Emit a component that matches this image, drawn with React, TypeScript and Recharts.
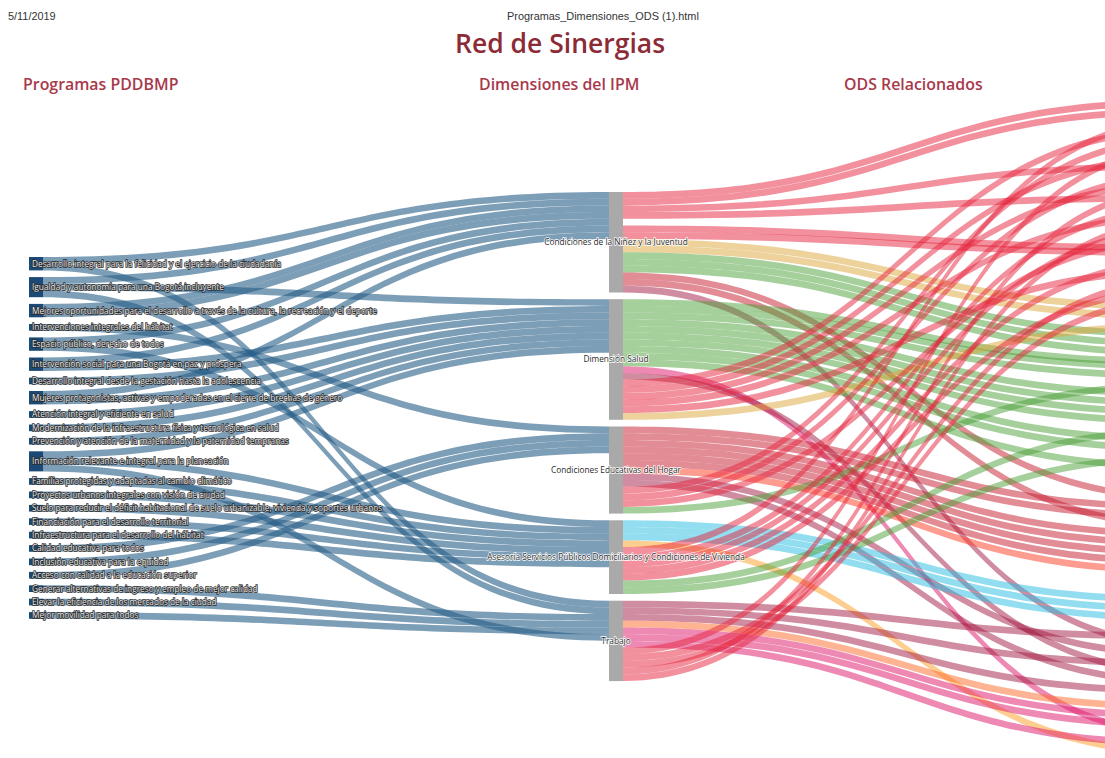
import React from 'react';
import { Sankey } from 'recharts';

const programas = [
  'Desarrollo integral para la felicidad y el ejercicio de la ciudadanía',
  'Igualdad y autonomía para una Bogotá incluyente',
  'Mejores oportunidades para el desarrollo a través de la cultura, la recreación y el deporte',
  'Intervenciones integrales del hábitat',
  'Espacio público, derecho de todos',
  'Intervención social para una Bogotá en paz y próspera',
  'Desarrollo integral desde la gestación hasta la adolescencia',
  'Mujeres protagonistas, activas y empoderadas en el cierre de brechas de género',
  'Atención integral y eficiente en salud',
  'Modernización de la infraestructura física y tecnológica en salud',
  'Prevención y atención de la maternidad y la paternidad tempranas',
  'Información relevante e integral para la planeación',
  'Familias protegidas y adaptadas al cambio climático',
  'Proyectos urbanos integrales con visión de ciudad',
  'Suelo para reducir el déficit habitacional de suelo urbanizable, vivienda y soportes urbanos',
  'Financiación para el desarrollo territorial',
  'Infraestructura para el desarrollo del hábitat',
  'Calidad educativa para todos',
  'Inclusión educativa para la equidad',
  'Acceso con calidad a la educación superior',
  'Generar alternativas de ingreso y empleo de mejor calidad',
  'Elevar la eficiencia de los mercados de la ciudad',
  'Mejor movilidad para todos',
];

const dimensiones = [
  'Condiciones de la Niñez y la Juventud',
  'Dimensión Salud',
  'Condiciones Educativas del Hogar',
  'Asesoría Servicios Públicos Domiciliarios y Condiciones de Vivienda',
  'Trabajo',
];

// program indices entering each dimension, in stacking order
const entradaNinez = [0, 1, 2, 2, 4, 5, 7];
const entradaSalud = [1, 5, 6, 7, 8, 9, 10, 11];
const entradaEducacion = [3, 17, 18, 19];
const entradaAsesoria = [4, 11, 12, 13, 14, 15, 16];
const entradaTrabajo = [0, 1, 20, 21, 22, 11];
const entradas = [entradaNinez, entradaSalud, entradaEducacion, entradaAsesoria, entradaTrabajo];

// ODS families on the right column, top to bottom: prefix, lanes, colour, hidden gap after it
const familiasOds: [string, number, string, number][] = [
  ['r', 21, '#E5243B', 0],
  ['y', 3, '#DDA63A', 0],
  ['g', 15, '#4C9F38', 3.8],
  ['c', 8, '#C5192D', 0],
  ['f', 1, '#FF3A21', 3.4],
  ['b', 3, '#26BDE2', 1],
  ['m', 7, '#A21942', 0.5],
  ['o', 1, '#FD6925', 0],
  ['p', 4, '#DD1367', 0],
  ['a', 1, '#FD9D24', 0],
];

// lanes leaving each dimension, in stacking order
const salidaNinez = ['r0', 'r1', 'r7', 'r10', 'x', 'r15', 'r15', 'y0', 'y1', 'g0', 'g1', 'g2', 'c0', 'c3', 'm1'];
const salidaSalud = ['g3', 'g3', 'g4', 'g6', 'g7', 'g8', 'g9', 'g11', 'g12', 'g14', 'p2', 'm4', 'r3', 'r6', 'r9', 'r12', 'r17', 'y2'];
const salidaEducacion = ['c1', 'c2', 'c4', 'c5', 'c6', 'c7', 'f0', 'm2', 'm5', 'r4', 'r8', 'r14', 'g5'];
const salidaAsesoria = ['b0', 'b1', 'b2', 'a0', 'r2', 'r11', 'r13', 'r16', 'r19', 'g10', 'g13'];
const salidaTrabajo = ['m0', 'm3', 'm6', 'o0', 'p0', 'p1', 'p3', 'r5', 'r18', 'r20', 'r9', 'r12'];
const salidas = [salidaNinez, salidaSalud, salidaEducacion, salidaAsesoria, salidaTrabajo];

// layout
const CHART_LEFT = 29;
const CHART_TOP = 100;
const CHART_WIDTH = 1174;
const NODE_WIDTH = 14;
const PADDING = 6.7;
const UNIT = 6.7;
const TOP_LEFT_COLUMN = 257;
const TOP_MIDDLE_COLUMN = 192;
const RIGHT_SQUEEZE = 0.68;

const colorOf: Record<string, string> = {};
familiasOds.forEach(([p, , c]) => { colorOf[p] = c; });

const nodes: any[] = [];
const idx: Record<string, number> = {};
const addNode = (key: string, name: string, kind: string) => {
  idx[key] = nodes.length;
  nodes.push({ name, kind });
};
addNode('spacerL', '', 'hidden');
programas.forEach((n, i) => addNode('P' + i, n, 'program'));
addNode('spacerC', '', 'hidden');
dimensiones.forEach((n, i) => addNode('D' + i, n, 'dimension'));
addNode('sinkC', '', 'hidden');
const firstRight = nodes.length;
familiasOds.forEach(([p, n, , gap]) => {
  for (let i = 0; i < n; i++) addNode(p + i, p + i, 'ods');
  if (gap > 0) addNode('gap' + p, '', 'hidden');
});
addNode('x', '', 'hidden');
const rightCount = nodes.length - firstRight;

const spacerMid = (TOP_MIDDLE_COLUMN - CHART_TOP - PADDING) / UNIT;
const spacerLeft = (TOP_LEFT_COLUMN - CHART_TOP - PADDING) / UNIT;

const links: any[] = [];
links.push({ source: idx.spacerL, target: idx.spacerC, value: spacerMid, hidden: true });
links.push({ source: idx.spacerL, target: idx.sinkC, value: spacerLeft - spacerMid, hidden: true });
links.push({ source: idx.spacerC, target: idx.x, value: 1, hidden: true });
links.push({ source: idx.sinkC, target: idx.x, value: 1, hidden: true });
familiasOds.forEach(([p, , , gap]) => {
  if (gap > 0) links.push({ source: idx.sinkC, target: idx['gap' + p], value: gap, hidden: true });
});
entradas.forEach((list, d) =>
  list.forEach((p, rank) =>
    links.push({ source: idx['P' + p], target: idx['D' + d], value: 1, tgtRank: rank, side: 'left', color: '#275d87' })
  )
);
salidas.forEach((list, d) =>
  list.forEach((lane, rank) =>
    links.push({
      source: idx['D' + d],
      target: idx[lane],
      value: 1,
      srcRank: rank,
      side: 'right',
      hidden: lane === 'x',
      color: colorOf[lane[0]],
    })
  )
);

const data = { nodes, links };

const rightUnits = links.filter((l) => l.target >= firstRight).reduce((s, l) => s + l.value, 0);
const CHART_HEIGHT = rightUnits * UNIT + (rightCount - 1) * PADDING;

const LinkShape = (props: any) => {
  const { sourceX, targetX, sourceY, targetY, sourceControlX, targetControlX, linkWidth, payload } = props;
  if (payload.hidden) return <g />;
  let sy = sourceY;
  let ty = targetY;
  if (payload.side === 'right') {
    sy = payload.source.y + payload.srcRank * linkWidth + linkWidth / 2;
    ty = targetY * RIGHT_SQUEEZE;
  } else {
    ty = payload.target.y + payload.tgtRank * linkWidth + linkWidth / 2;
  }
  const h = linkWidth / 2;
  const d =
    `M${sourceX},${sy - h} C${sourceControlX},${sy - h} ${targetControlX},${ty - h} ${targetX},${ty - h} ` +
    `L${targetX},${ty + h} C${targetControlX},${ty + h} ${sourceControlX},${sy + h} ${sourceX},${sy + h} Z`;
  return <path d={d} fill={payload.color} fillOpacity={payload.side === 'right' ? 0.5 : 0.6} stroke="none" />;
};

const NodeShape = (props: any) => {
  const { x, y, width, height, payload } = props;
  if (payload.kind === 'hidden') return <g />;
  if (payload.kind === 'ods') return <rect x={x} y={y * RIGHT_SQUEEZE} width={width} height={height} fill="#a9a9a9" />;
  if (payload.kind === 'program') {
    return (
      <g>
        <rect x={x} y={y} width={width} height={height} fill="#1c4a76" />
        <text
          x={x + 3}
          y={y + height / 2}
          dy="0.35em"
          fontFamily="'Open Sans', sans-serif"
          fontSize={8.3}
          fill="#e8e8e8"
          stroke="#2a2a2a"
          strokeWidth={1.5}
          paintOrder="stroke"
        >
          {payload.name}
        </text>
      </g>
    );
  }
  return (
    <g>
      <rect x={x} y={y} width={width} height={height} fill="#a9a9a9" />
      <text
        x={x + width / 2}
        y={y + height / 2}
        dy="0.35em"
        textAnchor="middle"
        fontFamily="'Open Sans', sans-serif"
        fontSize={8.3}
        fill="#2b2b2b"
        stroke="#ffffff"
        strokeWidth={1.4}
        paintOrder="stroke"
      >
        {payload.name}
      </text>
    </g>
  );
};

const text = (
  content: string,
  left: number,
  top: number,
  size: number,
  color: string,
  family: string,
  weight = 400
) => (
  <div
    style={{
      position: 'absolute',
      left,
      top,
      fontSize: size,
      color,
      fontFamily: family,
      fontWeight: weight,
      whiteSpace: 'nowrap',
      lineHeight: 1,
    }}
  >
    {content}
  </div>
);

export default function App() {
  const sans = "'Open Sans', sans-serif";
  const arial = "'Liberation Sans', sans-serif";
  return (
    <div style={{ position: 'absolute', left: 0, top: 0, width: 1105, height: 758, overflow: 'hidden', background: '#fff' }}>
      {text('5/11/2019', 8, 11, 10.9, '#333', arial)}
      {text('Programas_Dimensiones_ODS (1).html', 507, 11, 10.9, '#333', arial)}
      {text('Red de Sinergias', 455, 30, 26.5, '#8c2b36', sans, 600)}
      {text('Programas PDDBMP', 23, 77, 15.9, '#a8394b', sans, 600)}
      {text('Dimensiones del IPM', 479, 77, 15.9, '#a8394b', sans, 600)}
      {text('ODS Relacionados', 844, 77, 15.9, '#a8394b', sans, 600)}
      <div style={{ position: 'absolute', left: CHART_LEFT, top: CHART_TOP }}>
        <Sankey
          width={CHART_WIDTH}
          height={CHART_HEIGHT}
          data={data}
          nodeWidth={NODE_WIDTH}
          nodePadding={PADDING}
          iterations={0}
          sort={false}
          margin={{ top: 0, right: 0, bottom: 0, left: 0 }}
          link={LinkShape}
          node={NodeShape}
        />
      </div>
    </div>
  );
}
